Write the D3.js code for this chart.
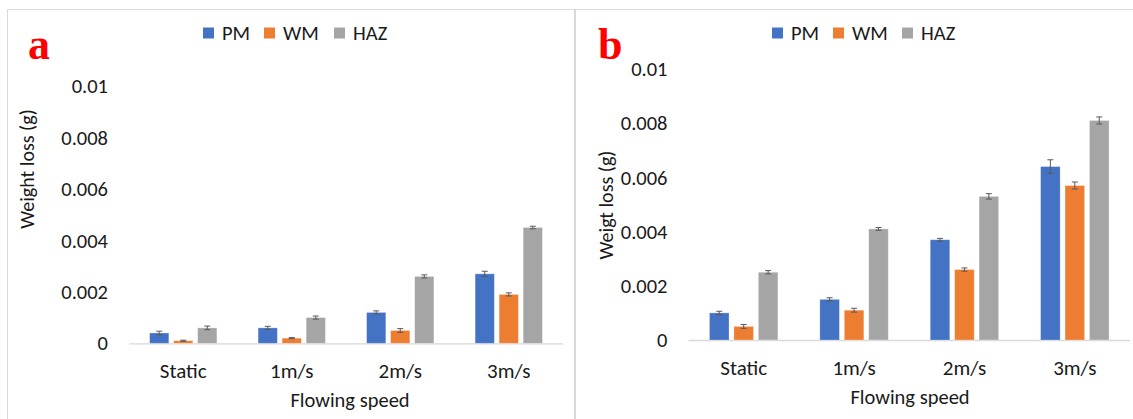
<!DOCTYPE html>
<html><head><meta charset="utf-8">
<script src="https://cdn.jsdelivr.net/npm/d3@7/dist/d3.min.js"></script>
<style>
html,body{margin:0;padding:0;background:#fff;}
svg{display:block;}
text{font-family:Carlito,Calibri,Lato,sans-serif;fill:#1a1a1a;}
</style></head>
<body>
<script>
const categories = ["Static","1m/s","2m/s","3m/s"];
const seriesNames = ["PM","WM","HAZ"];
const seriesColors = ["#4472C4","#ED7D31","#A5A5A5"];
const yTicks = [0,0.002,0.004,0.006,0.008,0.01];
const yTickLabels = ["0","0.002","0.004","0.006","0.008","0.01"];

// Panel a
const aPM  = [0.0004,0.0006,0.0012,0.0027];
const aWM  = [0.0001,0.0002,0.0005,0.0019];
const aHAZ = [0.0006,0.0010,0.0026,0.0045];
const aPMerr  = [0.00007,0.00006,0.00006,0.0001];
const aWMerr  = [0.00002,0.00002,0.00007,0.00006];
const aHAZerr = [0.00007,0.00006,0.00006,0.00005];

// Panel b
const bPM  = [0.0010,0.0015,0.0037,0.0064];
const bWM  = [0.0005,0.0011,0.0026,0.0057];
const bHAZ = [0.0025,0.0041,0.0053,0.0081];
const bPMerr  = [0.00006,0.00006,0.00005,0.00025];
const bWMerr  = [0.00007,0.00007,0.00006,0.00013];
const bHAZerr = [0.00006,0.00005,0.0001,0.00013];

const W = 1133, H = 419;
const svg = d3.select("body").append("svg").attr("width",W).attr("height",H);

// panel frames
svg.append("path").attr("d","M7.5,419 V9.5 H575.5 V419").attr("fill","none").attr("stroke","#d9d9d9");
svg.append("path").attr("d","M574.5,419 V9.5 H1133").attr("fill","none").attr("stroke","#d9d9d9");

function drawPanel(cfg){
  const g = svg.append("g");
  const x0 = d3.scaleBand().domain(categories).range([cfg.x0, cfg.x1]);
  const groupW = x0.bandwidth()*0.62;
  const x1 = d3.scaleBand().domain(seriesNames).range([0, groupW]).paddingInner(0.2);
  const y = d3.scaleLinear().domain([0,0.01]).range([cfg.y0, cfg.y1]);

  // y tick labels
  g.selectAll(".yt").data(yTicks).enter().append("text")
    .attr("x", cfg.yLabelX).attr("y", d=>y(d)).attr("dy","0.35em")
    .attr("text-anchor","end").attr("font-size",20.5)
    .text((d,i)=>yTickLabels[i]);

  // baseline
  g.append("line").attr("x1",cfg.x0).attr("x2",cfg.x1)
    .attr("y1",y(0)+0.5).attr("y2",y(0)+0.5).attr("stroke","#d9d9d9").attr("stroke-width",1.3);

  const series = [cfg.vals[0],cfg.vals[1],cfg.vals[2]];
  const errs = cfg.errs;
  seriesNames.forEach((s,si)=>{
    const data = categories.map((c,ci)=>({c, v:series[si][ci], e:errs[si][ci]}));
    g.selectAll(".bar"+si).data(data).enter().append("rect")
      .attr("x", d=>x0(d.c)+(x0.bandwidth()-groupW)/2 + x1(s))
      .attr("width", x1.bandwidth())
      .attr("y", d=>y(d.v))
      .attr("height", d=>y(0)-y(d.v))
      .attr("fill", seriesColors[si])
      .attr("stroke","#ffffff").attr("stroke-opacity",0.35).attr("stroke-width",0.8);
    const eg = g.selectAll(".err"+si).data(data).enter().append("g");
    eg.each(function(d){
      const cx = x0(d.c)+(x0.bandwidth()-groupW)/2 + x1(s) + x1.bandwidth()/2;
      const sel = d3.select(this);
      sel.append("line").attr("x1",cx).attr("x2",cx).attr("y1",y(d.v+d.e)).attr("y2",y(d.v-d.e))
        .attr("stroke","#595959").attr("stroke-width",1);
      [d.v+d.e,d.v-d.e].forEach(v=>{
        sel.append("line").attr("x1",cx-3).attr("x2",cx+3).attr("y1",y(v)).attr("y2",y(v))
          .attr("stroke","#595959").attr("stroke-width",1);
      });
    });
  });

  // category labels
  g.selectAll(".xt").data(categories).enter().append("text")
    .attr("x", d=>x0(d)+x0.bandwidth()/2).attr("y", cfg.catY)
    .attr("text-anchor","middle").attr("font-size",21).text(d=>d);

  // axis titles
  g.append("text").attr("x", cfg.xTitleX).attr("y", cfg.xTitleY)
    .attr("text-anchor","middle").attr("font-size",20.5).text("Flowing speed");
  g.append("text").attr("transform",`translate(${cfg.yTitleX},${cfg.yTitleY}) rotate(-90)`)
    .attr("text-anchor","middle").attr("dy","0.35em").attr("font-size",20).text(cfg.yTitle);

  // legend
  const leg = g.append("g");
  seriesNames.forEach((s,si)=>{
    leg.append("rect").attr("x",cfg.legX[si]).attr("y",27.5).attr("width",11).attr("height",11)
      .attr("fill",seriesColors[si]);
    leg.append("text").attr("x",cfg.legX[si]+19).attr("y",33).attr("dy","0.35em")
      .attr("font-size",20.5).text(s);
  });

  // panel letter
  g.append("text").attr("x",cfg.letterX).attr("y",cfg.letterY)
    .style("font-family","'Liberation Serif','Times New Roman',serif")
    .style("fill","#ff0000").attr("font-weight","bold").attr("font-size",44).text(cfg.letter);
}

drawPanel({
  x0:129, x1:563, y0:343.3, y1:86, yLabelX:108,
  vals:[aPM,aWM,aHAZ], errs:[aPMerr,aWMerr,aHAZerr],
  catY:378, xTitleX:350, xTitleY:407, yTitleX:27, yTitleY:169, yTitle:"Weight loss (g)",
  legX:[203,264,334], letter:"a", letterX:28, letterY:59
});
drawPanel({
  x0:688.5, x1:1130, y0:340, y1:69, yLabelX:667.5,
  vals:[bPM,bWM,bHAZ], errs:[bPMerr,bWMerr,bHAZerr],
  catY:375, xTitleX:910, xTitleY:404, yTitleX:606, yTitleY:205, yTitle:"Weigt loss (g)",
  legX:[772,833,902], letter:"b", letterX:598, letterY:59
});
</script>
</body></html>
